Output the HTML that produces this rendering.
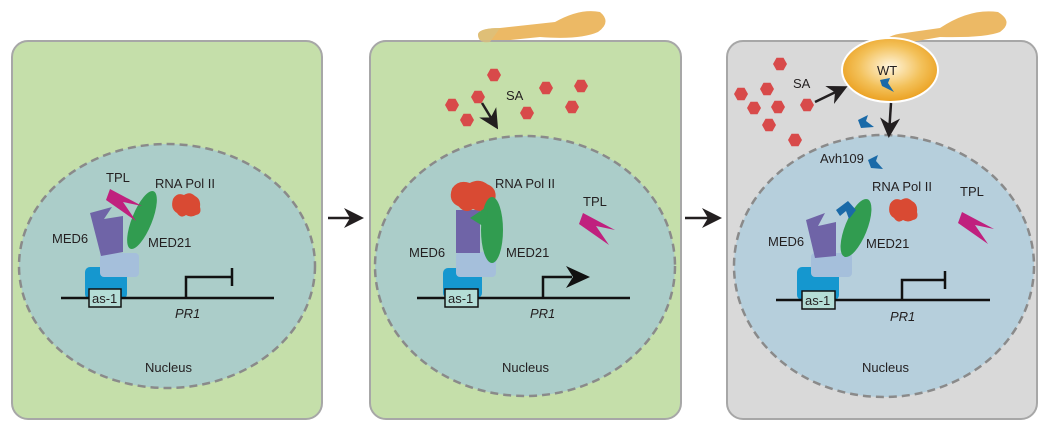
<!DOCTYPE html>
<html><head><meta charset="utf-8"><style>body{margin:0;background:#fff}svg{display:block}text{font-family:"Liberation Sans",sans-serif;font-size:13px;fill:#231f20}</style></head><body>
<svg width="1042" height="429" viewBox="0 0 1042 429">
<defs>
<radialGradient id="wt" cx="50%" cy="45%" r="55%"><stop offset="0" stop-color="#fff6df"/><stop offset="0.6" stop-color="#f3c15a"/><stop offset="1" stop-color="#eba020"/></radialGradient>
<marker id="ah" viewBox="0 0 10 10" refX="8" refY="5" markerWidth="8" markerHeight="8" orient="auto"><path d="M0,0 L10,5 L0,10 L3,5 z" fill="#231f20"/></marker>
<marker id="ah2" viewBox="0 0 10 10" refX="8" refY="5" markerWidth="6" markerHeight="6" orient="auto"><path d="M0,0 L10,5 L0,10 L3,5 z" fill="#231f20"/></marker>
<g id="hex"><polygon points="-7,0 -3.5,-6.3 3.5,-6.3 7,0 3.5,6.3 -3.5,6.3" fill="#d84a4a"/></g>
<g id="tpl"><polygon points="0,0 32,17 13,13 26,32 -4,11" fill="#c0207e"/></g>
<g id="blob"><path d="M-13,-6 Q-9,-13 -2,-10 Q4,-14 9,-9 Q15,-6 14,2 Q16,9 10,10 Q5,13 0,10 Q-5,14 -9,8 Q-16,4 -13,-6z" fill="#d94a33"/></g>
</defs>
<path d="M478,34 Q480,28 500,28 L555,22 Q580,8 600,12 Q612,22 598,32 Q580,40 540,37 L490,42 Q478,44 478,34z" fill="#ecb965"/>
<rect x="12" y="41" width="310" height="378" rx="16" fill="#c5dfaa" stroke="#a7a7a7" stroke-width="2"/>
<rect x="370" y="41" width="311" height="378" rx="16" fill="#c5dfaa" stroke="#a7a7a7" stroke-width="2"/>
<path d="M478,34 Q480,28 500,28 L490,42 Q478,44 478,34z" fill="#dcc07c" opacity="0.8"/>
<rect x="727" y="41" width="310" height="378" rx="16" fill="#d9d9d9" stroke="#a7a7a7" stroke-width="2"/>
<line x1="328" y1="218" x2="360" y2="218" stroke="#231f20" stroke-width="2.5" marker-end="url(#ah)"/>
<line x1="685" y1="218" x2="718" y2="218" stroke="#231f20" stroke-width="2.5" marker-end="url(#ah)"/>
<ellipse cx="167" cy="266" rx="148" ry="122" fill="#abcdc9" stroke="#8a8a8a" stroke-width="2.5" stroke-dasharray="8,5"/>
<ellipse cx="525" cy="266" rx="150" ry="130" fill="#abcdc9" stroke="#8a8a8a" stroke-width="2.5" stroke-dasharray="8,5"/>
<ellipse cx="884" cy="266" rx="150" ry="131" fill="#b6cfdc" stroke="#8a8a8a" stroke-width="2.5" stroke-dasharray="8,5"/>
<!-- PANEL 1 -->
<rect x="85" y="267" width="42" height="32" rx="5" fill="#1597cf"/>
<rect x="100" y="253" width="39" height="24" rx="4" fill="#a5bfdb"/>
<polygon points="90,213 112,207 104,219 123,216 123,252 101,256" fill="#6f64a7"/>
<ellipse cx="142" cy="220" rx="10" ry="31" transform="rotate(22 142 220)" fill="#319c50"/>
<use href="#tpl" transform="translate(110,189)"/>
<use href="#blob" transform="translate(186,205)"/>
<line x1="61" y1="298" x2="274" y2="298" stroke="#111" stroke-width="2.5"/>
<rect x="89" y="289" width="32" height="18" fill="#b4ddd6" stroke="#111" stroke-width="1.5"/>
<text x="92" y="303">as-1</text>
<polyline points="186,298 186,277 232,277" fill="none" stroke="#111" stroke-width="2.5"/>
<line x1="232" y1="268" x2="232" y2="286" stroke="#111" stroke-width="2.5"/>
<text x="175" y="318" font-style="italic">PR1</text>
<text x="106" y="182">TPL</text>
<text x="155" y="188">RNA Pol II</text>
<text x="52" y="243">MED6</text>
<text x="148" y="247">MED21</text>
<text x="145" y="372" font-size="12">Nucleus</text>
<!-- PANEL 2 -->
<use href="#hex" x="494" y="75"/><use href="#hex" x="452" y="105"/><use href="#hex" x="478" y="97"/><use href="#hex" x="467" y="120"/>
<use href="#hex" x="546" y="88"/><use href="#hex" x="581" y="86"/><use href="#hex" x="572" y="107"/><use href="#hex" x="527" y="113"/>
<text x="506" y="100">SA</text>
<line x1="482" y1="103" x2="496" y2="126" stroke="#231f20" stroke-width="2.5" marker-end="url(#ah)"/>
<rect x="443" y="268" width="39" height="30" rx="5" fill="#1597cf"/>
<rect x="456" y="252" width="40" height="25" rx="4" fill="#a5bfdb"/>
<rect x="456" y="210" width="24" height="43" fill="#6f64a7"/>
<use href="#blob" transform="translate(473,196) scale(1.6,1.3)"/>
<ellipse cx="492" cy="230" rx="11" ry="33" fill="#319c50"/>
<polygon points="470,218 488,206 486,228" fill="#319c50"/>
<use href="#tpl" transform="translate(583,213)"/>
<line x1="417" y1="298" x2="630" y2="298" stroke="#111" stroke-width="2.5"/>
<rect x="445" y="289" width="33" height="18" fill="#b4ddd6" stroke="#111" stroke-width="1.5"/>
<text x="448" y="303">as-1</text>
<polyline points="543,298 543,277 572,277" fill="none" stroke="#111" stroke-width="2.5"/>
<polygon points="566,266 590,277 566,288 573,277" fill="#111"/>
<text x="530" y="318" font-style="italic">PR1</text>
<text x="495" y="188">RNA Pol II</text>
<text x="583" y="206">TPL</text>
<text x="409" y="257">MED6</text>
<text x="506" y="257">MED21</text>
<text x="502" y="372" font-size="12">Nucleus</text>
<!-- PANEL 3 -->
<path d="M882,45 Q885,35 905,33 L940,28 Q970,8 998,12 Q1014,22 1000,32 Q985,38 940,37 L900,44z" fill="#ecb965"/>
<ellipse cx="890" cy="70" rx="48" ry="32" fill="url(#wt)" stroke="#fff" stroke-width="2"/>
<text x="877" y="75">WT</text>
<polygon points="880,80 890,78 888,83 894,92 882,86" fill="#1a6aa8"/>
<use href="#hex" x="780" y="64"/><use href="#hex" x="741" y="94"/><use href="#hex" x="767" y="89"/><use href="#hex" x="754" y="108"/>
<use href="#hex" x="778" y="107"/><use href="#hex" x="807" y="105"/><use href="#hex" x="769" y="125"/><use href="#hex" x="795" y="140"/>
<text x="793" y="88">SA</text>
<line x1="815" y1="102" x2="844" y2="88" stroke="#231f20" stroke-width="2.5" marker-end="url(#ah)"/>
<line x1="891" y1="103" x2="889" y2="134" stroke="#231f20" stroke-width="2.5" marker-end="url(#ah)"/>
<polygon points="858,120 868,115 866,121 874,127 861,128" fill="#1a6aa8"/>
<polygon points="868,160 878,155 876,161 883,169 871,168" fill="#1a6aa8"/>
<text x="820" y="163">Avh109</text>
<rect x="797" y="267" width="42" height="33" rx="5" fill="#1597cf"/>
<rect x="811" y="253" width="41" height="24" rx="4" fill="#a5bfdb"/>
<polygon points="806,220 825,213 818,226 836,222 836,256 815,258" fill="#6f64a7"/>
<ellipse cx="856" cy="228" rx="11" ry="31" transform="rotate(22 856 228)" fill="#319c50"/>
<polygon points="836,210 848,201 856,210 849,219 846,211 840,216" fill="#1a6aa8"/>
<use href="#blob" transform="translate(903,210)"/>
<use href="#tpl" transform="translate(962,212)"/>
<line x1="776" y1="300" x2="990" y2="300" stroke="#111" stroke-width="2.5"/>
<rect x="802" y="291" width="33" height="18" fill="#b4ddd6" stroke="#111" stroke-width="1.5"/>
<text x="805" y="305">as-1</text>
<polyline points="902,300 902,280 945,280" fill="none" stroke="#111" stroke-width="2.5"/>
<line x1="945" y1="271" x2="945" y2="289" stroke="#111" stroke-width="2.5"/>
<text x="890" y="321" font-style="italic">PR1</text>
<text x="872" y="191">RNA Pol II</text>
<text x="960" y="196">TPL</text>
<text x="768" y="246">MED6</text>
<text x="866" y="248">MED21</text>
<text x="862" y="372" font-size="12">Nucleus</text>
</svg>
</body></html>
